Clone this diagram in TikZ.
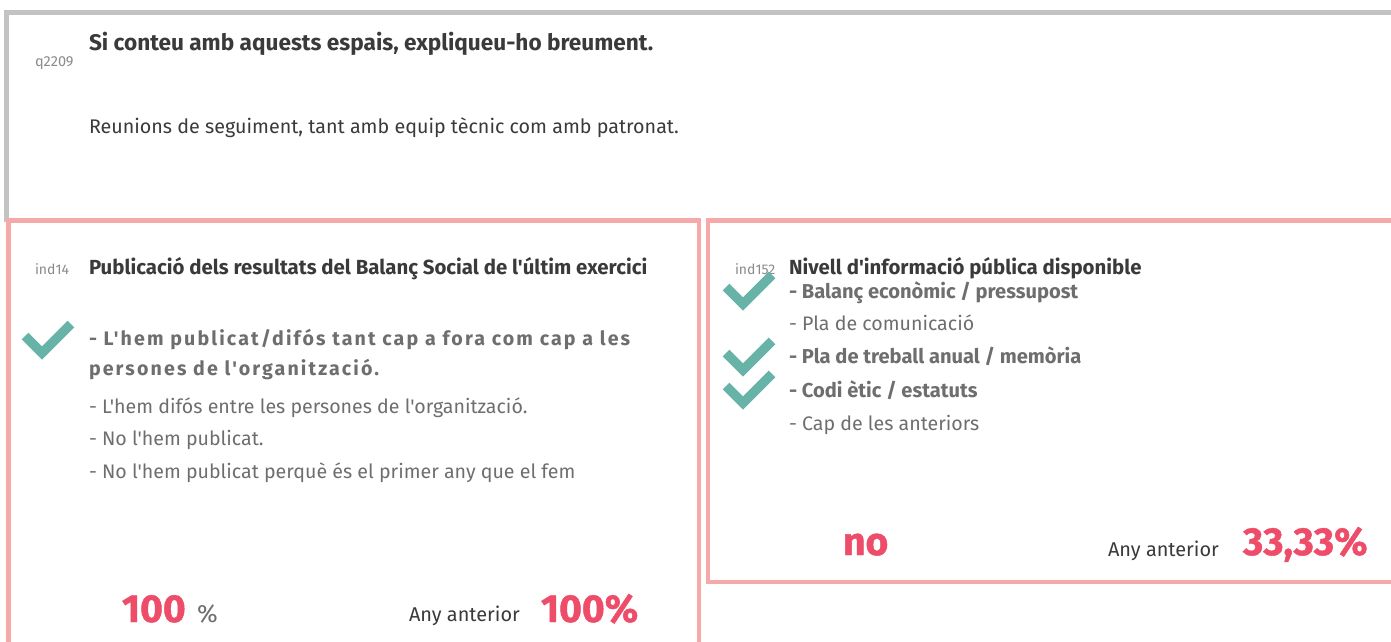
\documentclass[tikz,border=0pt]{standalone}
\usepackage{fontspec}
\setmainfont{Fira Sans}[Ligatures=TeXOff]
\newfontfamily\spacedfont{Fira Sans}[LetterSpace=10.8]
\newfontfamily\heavyfont{Fira Sans}[BoldFeatures={FakeBold=1.2}]
\definecolor{framegray}{HTML}{C3C3C3}
\definecolor{pinkline}{HTML}{F5A9A9}
\definecolor{darktext}{HTML}{3A3A3A}
\definecolor{opttext}{HTML}{6E6E6E}
\definecolor{idtext}{HTML}{8A8A8A}
\definecolor{rednum}{HTML}{EE4D6A}
\definecolor{teal}{HTML}{67B3A8}
\tikzset{
  txt/.style={anchor=base west, inner sep=0pt, outer sep=0pt},
  idlbl/.style={txt, text=idtext, font=\fontsize{14}{16}\selectfont},
  qtitle/.style={txt, text=darktext, font=\bfseries\fontsize{22.6}{26}\selectfont},
  indtitle/.style={txt, text=darktext, font=\bfseries\fontsize{20.4}{24}\selectfont},
  answer/.style={txt, text=darktext, font=\fontsize{19.7}{23}\selectfont},
  opt/.style={txt, text=opttext, font=\fontsize{19.6}{23}\selectfont},
  optbold/.style={txt, text=opttext, font=\bfseries\fontsize{20.1}{24}\selectfont},
  optspaced/.style={txt, text=opttext, font=\spacedfont\bfseries\fontsize{19.6}{23}\selectfont},
  bignum/.style={txt, text=rednum, font=\heavyfont\bfseries\fontsize{39}{43}\selectfont},
  pct/.style={txt, text=opttext, font=\fontsize{25}{29}\selectfont},
  prev/.style={txt, text=darktext, font=\fontsize{19.9}{23}\selectfont},
  grayframe/.style={draw=framegray, line width=5pt},
  pinkframe/.style={draw=pinkline, line width=4.5pt},
  checkmark/.style={draw=teal, line width=9.5pt, miter limit=10}
}
\begin{document}
\begin{tikzpicture}[x=1pt, y=-1pt]
\useasboundingbox (0,0) rectangle (1391,641);
\clip (0,0) rectangle (1391,641);
\fill[white] (0,0) rectangle (1391,641);
% frames
\draw[grayframe] (1400,12.5) -- (6.5,12.5) -- (6.5,222);
\draw[pinkframe] (8.5,650) -- (8.5,220.5) -- (699,220.5) -- (699,650);
\draw[pinkframe] (1400,220.5) -- (708,220.5) -- (708,582) -- (1400,582);
% top question
\node[idlbl, font=\fontsize{14.5}{16}\selectfont] (q) at (35,66) {q2209};
\node[qtitle] (qt) at (89,50) {Si conteu amb aquests espais, expliqueu-ho breument.};
\node[answer] (qa) at (89,133) {Reunions de seguiment, tant amb equip tècnic com amb patronat.};
% left indicator
\node[idlbl] (i14) at (35,274) {ind14};
\node[indtitle] (t14) at (89,274) {Publicació dels resultats del Balanç Social de l'últim exercici};
\node[optspaced] (o1a) at (89,345) {- L'hem publicat/difós tant cap a fora com cap a les};
\node[optspaced] (o1b) at (89,375) {persones de l'organització.};
\node[opt] (o2) at (89,413) {- L'hem difós entre les persones de l'organització.};
\node[opt] (o3) at (89,445) {- No l'hem publicat.};
\node[opt] (o4) at (89,478) {- No l'hem publicat perquè és el primer any que el fem};
\node[bignum] (v14) at (122,622) {100};
\node[pct] (p14) at (197,622) {\%};
\node[prev] (a14) at (409,621) {Any anterior};
\node[bignum] (pv14) at (541,622) {100\%};
\draw[checkmark] (25,336) -- (42,353) -- (71,324);
% right indicator
\node[idlbl] (i152) at (735,274) {ind152};
\node[indtitle] (t152) at (789,274) {Nivell d'informació pública disponible};
\node[optbold] (r1) at (789,298) {- Balanç econòmic / pressupost};
\node[opt] (r2) at (789,330) {- Pla de comunicació};
\node[optbold] (r3) at (789,363) {- Pla de treball anual / memòria};
\node[optbold] (r4) at (789,397) {- Codi ètic / estatuts};
\node[opt] (r5) at (789,430) {- Cap de les anteriors};
\draw[checkmark] (726,287) -- (743,304) -- (772,275);
\draw[checkmark] (726,353) -- (743,370) -- (772,341);
\draw[checkmark] (726,386) -- (743,403) -- (772,374);
\node[bignum] (v152) at (843,555) {no};
\node[prev] (a152) at (1108,556) {Any anterior};
\node[bignum] (pv152) at (1243,555) {33,33\%};
\end{tikzpicture}
\end{document}
